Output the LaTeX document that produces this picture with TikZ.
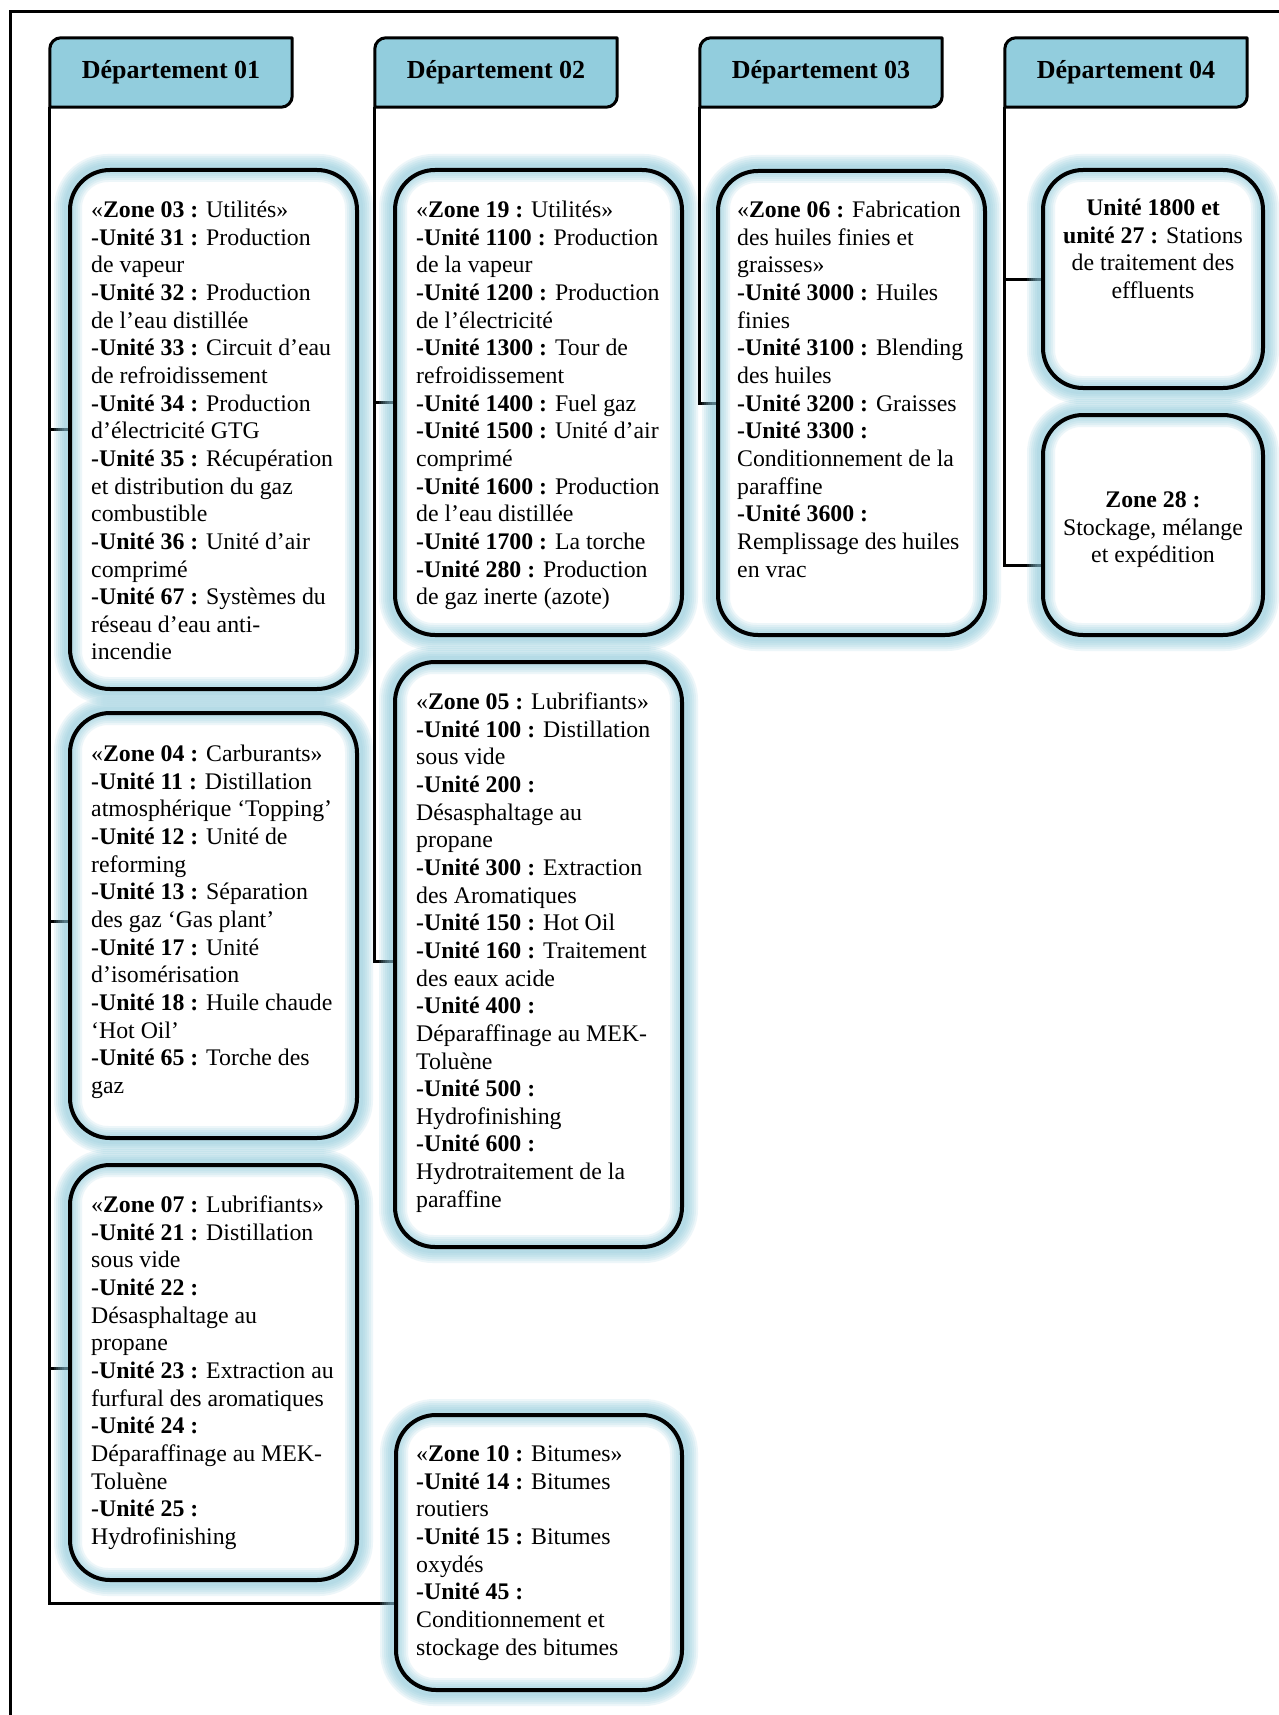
\documentclass[tikz,border=0pt]{standalone}
\usepackage{fontspec}
\setmainfont{Liberation Serif}
\usetikzlibrary{calc,backgrounds}
\definecolor{tabblue}{RGB}{146,205,221}
\definecolor{glowblue}{RGB}{140,200,218}
\tikzset{
  tabnode/.style={rectangle, inner sep=0pt, minimum width=242pt, minimum height=69pt,
    font=\fontsize{26}{30}\selectfont\bfseries},
  tabfill/.style={fill=tabblue, draw=black, line width=3pt, line join=round},
  zonebox/.style={rectangle, rounded corners=40pt, draw=black, line width=4pt, inner sep=0pt},
  zonetext/.style={anchor=north west, align=left, inner sep=0pt,
    font=\fontsize{23.8}{27.65}\selectfont},
  zonecentre/.style={anchor=north, align=center, inner sep=0pt,
    font=\fontsize{23.8}{27.65}\selectfont},
  conn/.style={draw=black, line width=3pt},
  framerule/.style={draw=black, line width=3pt},
  halo/.style={draw=glowblue, opacity=0.15, line width=#1, rounded corners=40pt}
}
\newcommand{\un}[1]{\textbf{#1}}
\begin{document}
\begin{tikzpicture}[x=1pt, y=-1pt]
\useasboundingbox (0,0) rectangle (1278,1715);

% department headers
\node[tabnode] (d01) at (171,72.5)  {Département 01};
\node[tabnode] (d02) at (496,72.5)  {Département 02};
\node[tabnode] (d03) at (821,72.5)  {Département 03};
\node[tabnode] (d04) at (1126,72.5) {Département 04};

% zone frames
\node[zonebox, minimum width=287pt, minimum height=519pt] (z03) at (213.5,429.5) {};
\node[zonebox, minimum width=287pt, minimum height=425pt] (z04) at (213.5,925.5) {};
\node[zonebox, minimum width=287pt, minimum height=415pt] (z07) at (213.5,1372.5) {};
\node[zonebox, minimum width=287pt, minimum height=465pt] (z19) at (538.5,402.5) {};
\node[zonebox, minimum width=287pt, minimum height=585pt] (z05) at (538.5,954.5) {};
\node[zonebox, minimum width=286pt, minimum height=275pt] (z10) at (539,1552.5) {};
\node[zonebox, minimum width=267pt, minimum height=464pt] (z06) at (851.5,403) {};
\node[zonebox, minimum width=220pt, minimum height=218pt] (u18) at (1153,279) {};
\node[zonebox, minimum width=220pt, minimum height=220pt] (z28) at (1153,525) {};

% zone contents
\node[zonetext] (t03) at (91,198) {\strut«\un{Zone 03 :} Utilités»\\
\un{-Unité 31 :} Production\\
de vapeur\\
\un{-Unité 32 :} Production\\
de l’eau distillée\\
\un{-Unité 33 :} Circuit d’eau\\
de refroidissement\\
\un{-Unité 34 :} Production\\
d’électricité GTG\\
\un{-Unité 35 :} Récupération\\
et distribution du gaz\\
combustible\\
\un{-Unité 36 :} Unité d’air\\
comprimé\\
\un{-Unité 67 :} Systèmes du\\
réseau d’eau anti-\\
incendie};

\node[zonetext] (t04) at (91,742) {\strut«\un{Zone 04 :} Carburants»\\
\un{-Unité 11 :} Distillation\\
atmosphérique ‘Topping’\\
\un{-Unité 12 :} Unité de\\
reforming\\
\un{-Unité 13 :} Séparation\\
des gaz ‘Gas plant’\\
\un{-Unité 17 :} Unité\\
d’isomérisation\\
\un{-Unité 18 :} Huile chaude\\
‘Hot Oil’\\
\un{-Unité 65 :} Torche des\\
gaz};

\node[zonetext] (t07) at (91,1193) {\strut«\un{Zone 07 :} Lubrifiants»\\
\un{-Unité 21 :} Distillation\\
sous vide\\
\un{-Unité 22 :}\\
Désasphaltage au\\
propane\\
\un{-Unité 23 :} Extraction au\\
furfural des aromatiques\\
\un{-Unité 24 :}\\
Déparaffinage au MEK-\\
Toluène\\
\un{-Unité 25 :}\\
Hydrofinishing};

\node[zonetext] (t19) at (416,198) {\strut«\un{Zone 19 :} Utilités»\\
\un{-Unité 1100 :} Production\\
de la vapeur\\
\un{-Unité 1200 :} Production\\
de l’électricité\\
\un{-Unité 1300 :} Tour de\\
refroidissement\\
\un{-Unité 1400 :} Fuel gaz\\
\un{-Unité 1500 :} Unité d’air\\
comprimé\\
\un{-Unité 1600 :} Production\\
de l’eau distillée\\
\un{-Unité 1700 :} La torche\\
\un{-Unité 280 :} Production\\
de gaz inerte (azote)};

\node[zonetext] (t05) at (416,690) {\strut«\un{Zone 05 :} Lubrifiants»\\
\un{-Unité 100 :} Distillation\\
sous vide\\
\un{-Unité 200 :}\\
Désasphaltage au\\
propane\\
\un{-Unité 300 :} Extraction\\
des Aromatiques\\
\un{-Unité 150 :} Hot Oil\\
\un{-Unité 160 :} Traitement\\
des eaux acide\\
\un{-Unité 400 :}\\
Déparaffinage au MEK-\\
Toluène\\
\un{-Unité 500 :}\\
Hydrofinishing\\
\un{-Unité 600 :}\\
Hydrotraitement de la\\
paraffine};

\node[zonetext] (t10) at (416,1442) {\strut«\un{Zone 10 :} Bitumes»\\
\un{-Unité 14 :} Bitumes\\
routiers\\
\un{-Unité 15 :} Bitumes\\
oxydés\\
\un{-Unité 45 :}\\
Conditionnement et\\
stockage des bitumes};

\node[zonetext] (t06) at (737,198) {\strut«\un{Zone 06 :} Fabrication\\
des huiles finies et\\
graisses»\\
\un{-Unité 3000 :} Huiles\\
finies\\
\un{-Unité 3100 :} Blending\\
des huiles\\
\un{-Unité 3200 :} Graisses\\
\un{-Unité 3300 :}\\
Conditionnement de la\\
paraffine\\
\un{-Unité 3600 :}\\
Remplissage des huiles\\
en vrac};

\node[zonecentre] (t18) at (1153,196) {\strut\un{Unité 1800 et}\\
\un{unité 27 :} Stations\\
de traitement des\\
effluents};

\node[zonecentre] (t28) at (1153,488) {\strut\un{Zone 28 :}\\
Stockage, mélange\\
et expédition};

\begin{scope}[on background layer]
  \fill[white] (0,0) rectangle (1278,1715);

  % outer frame
  \draw[framerule] (10,1715) -- (10,12) -- (1280,12);

  % connectors
  \draw[conn] (d01.south west) |- (z03.west);
  \draw[conn] (d01.south west) |- ([yshift=4.5pt]z04.west);
  \draw[conn] (d01.south west) |- ([yshift=4.5pt]z07.west);
  \draw[conn] (d01.south west) |- ([yshift=-50.5pt]z10.west);
  \draw[conn] (d02.south west) |- (z19.west);
  \draw[conn] (d02.south west) |- ([yshift=-6.5pt]z05.west);
  \draw[conn] (d03.south west) |- (z06.west);
  \draw[conn] (d04.south west) |- (u18.west);
  \draw[conn] (d04.south west) |- ([yshift=-40pt]z28.west);

  % soft halo round each zone frame, built from stacked translucent strokes
  \foreach \z in {z03,z04,z07,z19,z05,z10,z06,u18,z28}{
    \foreach \w in {28,24,20,16,12,8}{
      \draw[halo=\w pt] (\z.north west) rectangle (\z.south east);
    }
  }

  % header tabs: rounded top-left and bottom-right corners
  \foreach \t in {d01,d02,d03,d04}{
    \filldraw[tabfill] (\t.south west)
      -- ($(\t.north west)+(0,11)$)
      .. controls ($(\t.north west)+(0,5)$) and ($(\t.north west)+(5,0)$) .. ($(\t.north west)+(11,0)$)
      -- (\t.north east)
      -- ($(\t.south east)+(0,-11)$)
      .. controls ($(\t.south east)+(0,-5)$) and ($(\t.south east)+(-5,0)$) .. ($(\t.south east)+(-11,0)$)
      -- cycle;
  }
\end{scope}
\end{tikzpicture}
\end{document}
